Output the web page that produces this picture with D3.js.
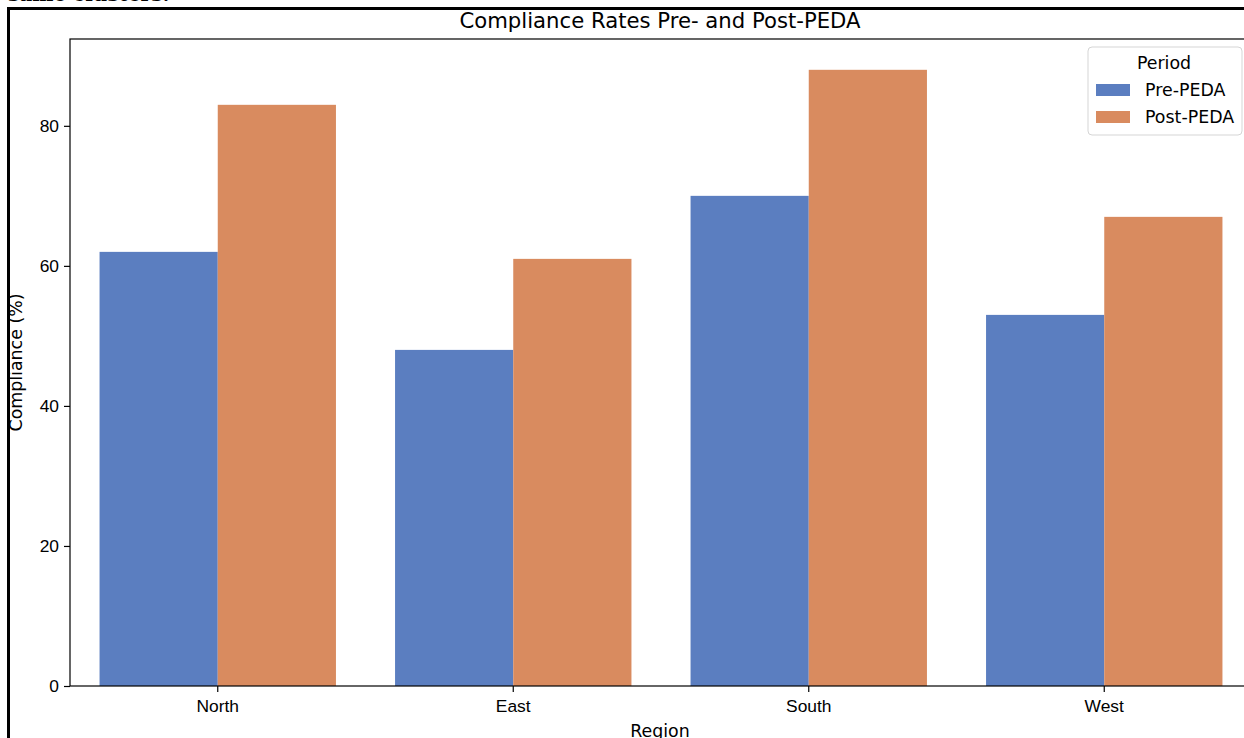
<!DOCTYPE html>
<html>
<head>
<meta charset="utf-8">
<script src="https://cdn.jsdelivr.net/npm/d3@7"></script>
<style>
  body { margin: 0; background: #fff; overflow: hidden; }
  svg { display: block; font-family: "DejaVu Sans", sans-serif; }
  .tick text { font-size: 17.4px; fill: #000; }
  .tick line { stroke: #000; stroke-width: 1.2; }
</style>
</head>
<body>
<div id="wrapper"></div>
<script>
// data
const regions = ["North", "East", "South", "West"]
const periods = ["Pre-PEDA", "Post-PEDA"]
const preValues = [62, 48, 70, 53]
const postValues = [83, 61, 88, 67]
const yTicks = [0, 20, 40, 60, 80]

const colors = { "Pre-PEDA": "#5b7ec0", "Post-PEDA": "#d98b5f" }

function drawBarChart() {
  const width = 1244
  const height = 738
  // plot area (right side runs past the window, as in the screenshot)
  const plot = { left: 70, top: 39, bottom: 686, right: 1252 }

  const rows = regions.map((r, i) => ({
    region: r,
    values: [
      { period: periods[0], value: preValues[i] },
      { period: periods[1], value: postValues[i] },
    ]
  }))

  const svg = d3.select("#wrapper").append("svg")
    .attr("width", width)
    .attr("height", height)

  // cut-off text from the page above + frame border
  svg.append("text")
    .attr("x", 8)
    .attr("y", 1)
    .style("font-family", "'DejaVu Serif', serif")
    .style("font-weight", "bold")
    .style("font-size", "20px")
    .text("same clusters.")
  svg.append("path")
    .attr("d", `M8.5,${height} V8.5 H${width}`)
    .attr("fill", "none")
    .attr("stroke", "#000")
    .attr("stroke-width", 3)

  // scales
  const maxVal = d3.max(postValues.concat(preValues))
  const yScale = d3.scaleLinear()
    .domain([0, maxVal * 1.05])
    .range([plot.bottom, plot.top])

  const xScale = d3.scaleBand()
    .domain(regions)
    .range([plot.left, plot.right])
    .paddingInner(0.2)
    .paddingOuter(0.1)

  const innerScale = d3.scaleBand()
    .domain(periods)
    .range([0, xScale.bandwidth()])

  // bars
  const groups = svg.selectAll(".group")
    .data(rows)
    .enter().append("g")
    .attr("class", "group")
    .attr("transform", d => `translate(${xScale(d.region)},0)`)

  groups.selectAll("rect")
    .data(d => d.values)
    .enter().append("rect")
    .attr("x", d => innerScale(d.period))
    .attr("width", innerScale.bandwidth())
    .attr("y", d => yScale(d.value))
    .attr("height", d => plot.bottom - yScale(d.value))
    .attr("fill", d => colors[d.period])

  // axes
  const yAxis = svg.append("g")
    .attr("transform", `translate(${plot.left},0)`)
    .call(d3.axisLeft(yScale).tickValues(yTicks).tickSize(6).tickPadding(5))
  yAxis.select(".domain").remove()

  const xAxis = svg.append("g")
    .attr("transform", `translate(0,${plot.bottom})`)
    .call(d3.axisBottom(xScale).tickSize(6).tickPadding(4))
  xAxis.select(".domain").remove()
  xAxis.selectAll(".tick text").attr("dy", "0.9em")

  // spines
  svg.append("rect")
    .attr("x", plot.left)
    .attr("y", plot.top)
    .attr("width", plot.right - plot.left)
    .attr("height", plot.bottom - plot.top)
    .attr("fill", "none")
    .attr("stroke", "#000")
    .attr("stroke-width", 1.2)

  // title and labels
  svg.append("text")
    .attr("x", 660)
    .attr("y", 28)
    .attr("text-anchor", "middle")
    .style("font-size", "21.2px")
    .text("Compliance Rates Pre- and Post-PEDA")

  svg.append("text")
    .attr("transform", `translate(22,${(plot.top + plot.bottom) / 2}) rotate(-90)`)
    .attr("text-anchor", "middle")
    .style("font-size", "17.4px")
    .text("Compliance (%)")

  svg.append("text")
    .attr("x", 660)
    .attr("y", 737)
    .attr("text-anchor", "middle")
    .style("font-size", "17.4px")
    .text("Region")

  // legend
  const legend = svg.append("g")
    .attr("transform", "translate(1088,47)")
  legend.append("rect")
    .attr("width", 154)
    .attr("height", 88)
    .attr("rx", 4)
    .attr("fill", "#fff")
    .attr("fill-opacity", 0.8)
    .attr("stroke", "#d5d5d5")
  legend.append("text")
    .attr("x", 76)
    .attr("y", 22)
    .attr("text-anchor", "middle")
    .style("font-size", "17.4px")
    .text("Period")
  const items = legend.selectAll(".item")
    .data(periods)
    .enter().append("g")
    .attr("class", "item")
    .attr("transform", (d, i) => `translate(8,${37 + i * 27})`)
  items.append("rect")
    .attr("width", 34)
    .attr("height", 12)
    .attr("fill", d => colors[d])
  items.append("text")
    .attr("x", 49)
    .attr("y", 12)
    .style("font-size", "17.4px")
    .text(d => d)
}
drawBarChart()
</script>
</body>
</html>
